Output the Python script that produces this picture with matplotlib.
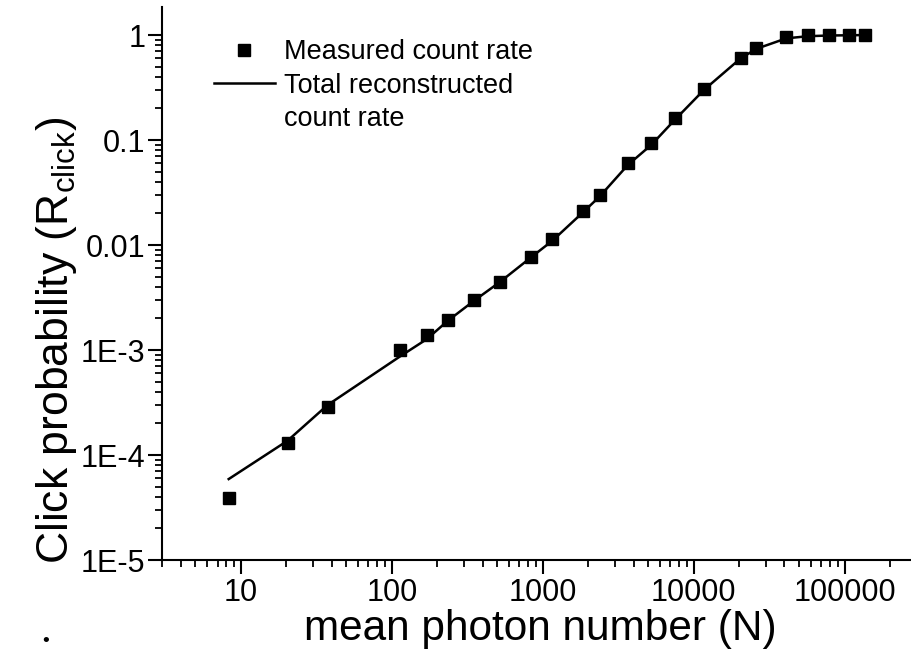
import matplotlib
matplotlib.use("Agg")
import matplotlib.pyplot as plt
from matplotlib.ticker import FixedLocator, FixedFormatter, LogLocator, NullFormatter

plt.rcParams['font.family'] = ['Liberation Sans', 'DejaVu Sans']
plt.rcParams['mathtext.fontset'] = 'custom'
plt.rcParams['mathtext.rm'] = 'Liberation Sans'
plt.rcParams['mathtext.default'] = 'regular'

# measured click probabilities
n_meas = [8.3, 20.4, 37.5, 113.5, 170.6, 234, 351, 521, 834, 1159, 1849, 2385,
          3670, 5248, 7480, 11700, 20500, 26100, 41100, 57200, 78700, 106800, 135700]
r_meas = [3.87e-5, 1.29e-4, 2.85e-4, 1.0e-3, 1.39e-3, 1.95e-3, 3.01e-3, 4.48e-3,
          7.74e-3, 0.0114, 0.0211, 0.0301, 0.0604, 0.0936, 0.161, 0.306, 0.604,
          0.747, 0.95, 1.0, 1.0, 1.0, 1.0]

# reconstructed total count rate (curve)
n_fit = [8.3, 20.4, 37.5, 113.5, 170.6, 234, 351, 521, 834, 1159, 1849, 2385,
         3670, 5248, 7480, 11700, 20500, 26100, 41100, 57200, 78700, 106800, 135700]
r_fit = [5.9e-5, 1.37e-4, 2.99e-4, 8.7e-4, 1.27e-3, 1.89e-3, 2.95e-3, 4.45e-3,
         7.6e-3, 0.011, 0.0205, 0.029, 0.058, 0.090, 0.155, 0.30, 0.60,
         0.74, 0.93, 0.975, 0.99, 0.995, 1.0]

y_ticks = [1e-5, 1e-4, 1e-3, 1e-2, 1e-1, 1]
y_labels = ['1E-5', '1E-4', '1E-3', '0.01', '0.1', '1']
x_ticks = [10, 100, 1000, 10000, 100000]
x_labels = ['10', '100', '1000', '10000', '100000']

W, H = 912, 650
fig = plt.figure(figsize=(W / 100, H / 100), dpi=100)
ax = fig.add_axes([162 / W, 1 - 560 / H, 1 - 162 / W, (560 - 7) / H])

ax.plot(n_fit, r_fit, color='black', lw=1.8, label='Total reconstructed')
ax.plot(n_meas, r_meas, 's', color='black', ms=9, label='Measured count rate')

ax.set_xscale('log')
ax.set_yscale('log')
ax.set_xlim(3, 2.8e5)
ax.set_ylim(1e-5, 1.85)

ax.spines['top'].set_visible(False)
ax.spines['right'].set_visible(False)
for sp in ('left', 'bottom'):
    ax.spines[sp].set_linewidth(1.5)

ax.xaxis.set_major_locator(FixedLocator(x_ticks))
ax.xaxis.set_major_formatter(FixedFormatter(x_labels))
ax.yaxis.set_major_locator(FixedLocator(y_ticks))
ax.yaxis.set_major_formatter(FixedFormatter(y_labels))
ax.xaxis.set_minor_locator(LogLocator(base=10, subs=range(2, 10), numticks=20))
ax.yaxis.set_minor_locator(LogLocator(base=10, subs=range(2, 10), numticks=20))
ax.xaxis.set_minor_formatter(NullFormatter())
ax.yaxis.set_minor_formatter(NullFormatter())
ax.tick_params(which='major', direction='out', length=10, width=1.5, labelsize=22)
ax.tick_params(which='minor', direction='out', length=5, width=1.3)
ax.tick_params(axis='x', which='major', pad=3)
ax.tick_params(axis='y', which='major', pad=2)

ax.set_xlabel('mean photon number (N)', fontsize=30.5)
ax.xaxis.set_label_coords((540 - 162) / 750, -(629 - 560) / 553)
ax.set_ylabel(r'Click probability (R$_{click}$)', fontsize=32)
ax.yaxis.set_label_coords((57 - 162) / 750, (560 - 340) / 553)
ax.xaxis.label.set_va('center')
ax.yaxis.label.set_va('center')

handles, labels = ax.get_legend_handles_labels()
leg = ax.legend(handles[::-1], labels[::-1], loc='upper left', frameon=False,
                bbox_to_anchor=(214 / W, 1 - 39 / H), bbox_transform=fig.transFigure,
                fontsize=19.5, borderpad=0, borderaxespad=0, handlelength=2.25,
                handletextpad=0.33, labelspacing=0.28)
fig.text(284 / W, 1 - 119 / H, 'count rate', fontsize=19.5, ha='left', va='center')

# stray dot in the original figure
fig.text(46 / W, 1 - 642 / H, '\u2022', fontsize=14, ha='center', va='center')

fig.savefig('out.png', dpi=100, facecolor='white')
